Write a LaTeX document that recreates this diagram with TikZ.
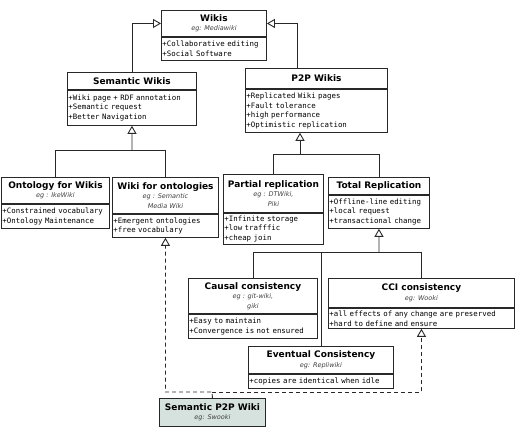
\documentclass[tikz,border=0pt]{standalone}
\usepackage{fontspec}
\setmainfont{DejaVu Sans}
\setsansfont{DejaVu Sans}
\setmonofont{DejaVu Sans Mono}
\usetikzlibrary{positioning,arrows.meta,calc}

\definecolor{umlline}{RGB}{40,40,40}
\definecolor{swfill}{RGB}{214,226,222}
\newcommand{\egf}{\fontsize{6.5}{9.5}\selectfont\mdseries\itshape\color{darkgray}}

\tikzset{
  head/.style={draw=umlline, line width=0.9pt, anchor=north west, align=center,
    inner sep=1pt, font=\fontsize{9}{9.5}\selectfont\bfseries},
  body/.style={draw=umlline, line width=0.9pt, anchor=north west, align=left,
    inner xsep=1pt, inner ysep=1pt, font=\ttfamily\fontsize{7.4}{9.8}\selectfont},
  link/.style={draw=umlline, line width=0.9pt},
  inherit/.style={link, -{Triangle[open,width=9pt,length=8pt]}},
  realize/.style={inherit, dash pattern=on 4pt off 3pt},
}

\begin{document}
\begin{tikzpicture}[x=1pt,y=-1pt]
  \useasboundingbox (0,0) rectangle (516,428);

  % top of the hierarchy
  \node[head, minimum width=105pt, minimum height=26pt] (wikis) at (161,10) {Wikis\\\egf eg: Mediawiki};
  \node[body, text width=103pt, minimum height=23pt] (wikis-b) at (wikis.south west) {+Collaborative editing\\+Social Software};

  \node[head, minimum width=129pt, minimum height=17pt] (semwikis) at (67,72) {Semantic Wikis};
  \node[body, text width=127pt, minimum height=35pt] (semwikis-b) at (semwikis.south west) {+Wiki page + RDF annotation\\+Semantic request\\+Better Navigation};

  \node[head, minimum width=142pt, minimum height=20pt] (ptwop) at (245,68) {P2P Wikis};
  \node[body, text width=140pt, minimum height=43pt] (ptwop-b) at (ptwop.south west) {+Replicated Wiki pages\\+Fault tolerance\\+high performance\\+Optimistic replication};

  % semantic branch
  \node[head, minimum width=108pt, minimum height=26pt] (ontowikis) at (1,177) {Ontology for Wikis\\\egf eg : IkeWiki};
  \node[body, text width=106pt, minimum height=24pt] (ontowikis-b) at (ontowikis.south west) {+Constrained vocabulary\\+Ontology Maintenance};

  \node[head, minimum width=106pt, minimum height=36pt] (wikionto) at (112,177) {Wiki for ontologies\\\egf eg : Semantic\\\egf Media Wiki};
  \node[body, text width=104pt, minimum height=23pt] (wikionto-b) at (wikionto.south west) {+Emergent ontologies\\+free vocabulary};

  % p2p branch
  \node[head, minimum width=100pt, minimum height=38pt] (partial) at (223,174) {Partial replication\\\egf eg : DTWiki,\\\egf Piki};
  \node[body, text width=98pt, minimum height=31pt] (partial-b) at (partial.south west) {+Infinite storage\\+low trafffic\\+cheap join};

  \node[head, minimum width=101pt, minimum height=17pt] (total) at (328,177) {Total Replication};
  \node[body, text width=99pt, minimum height=33pt] (total-b) at (total.south west) {+Offline-line editing\\+local request\\+transactional change};

  % consistency models
  \node[head, minimum width=129pt, minimum height=35pt] (causal) at (188,278) {Causal consistency\\\egf eg : git-wiki,\\\egf giki};
  \node[body, text width=127pt, minimum height=24pt] (causal-b) at (causal.south west) {+Easy to maintain\\+Convergence is not ensured};

  \node[head, minimum width=186pt, minimum height=29pt] (cci) at (328,278) {CCI consistency\\\egf eg: Wooki};
  \node[body, text width=184pt, minimum height=20pt] (cci-b) at (cci.south west) {+all effects of any change are preserved\\+hard to define and ensure};

  \node[head, minimum width=145pt, minimum height=27pt] (eventual) at (248,346) {Eventual Consistency\\\egf eg: Repliwiki};
  \node[body, text width=143pt, minimum height=14pt] (eventual-b) at (eventual.south west) {+copies are identical when idle};

  \node[head, fill=swfill, minimum width=106pt, minimum height=28pt] (semp2p) at (159,398) {Semantic P2P Wiki\\\egf eg: Swooki};

  % junctions
  \coordinate (j1) at (132,150);
  \coordinate (j2) at (300,154);
  \coordinate (j3) at (379,252);
  \coordinate (j4) at (212,392);

  \draw[inherit] (semwikis.north) |- (wikis.west);
  \draw[inherit] ([xshift=-19pt]ptwop.north) |- (wikis.east);

  \draw[link] (ontowikis.north) |- (wikionto.north |- j1) -- (wikionto.north);
  \draw[inherit] (j1) -- (semwikis-b.south);

  \draw[link] (partial.north) |- (total.north |- j2) -- (total.north);
  \draw[inherit] (j2) -- (j2 |- ptwop-b.south);

  \draw[link] (causal.north) |- (cci.north |- j3) -- (cci.north);
  \draw[link] (eventual.north) -- (eventual.north |- j3);
  \draw[inherit] (j3) -- (total-b.south);

  \draw[realize] (semp2p.north) -- (j4) -| (wikionto-b.south);
  \draw[realize] (j4) -| (cci-b.south);

\end{tikzpicture}
\end{document}
